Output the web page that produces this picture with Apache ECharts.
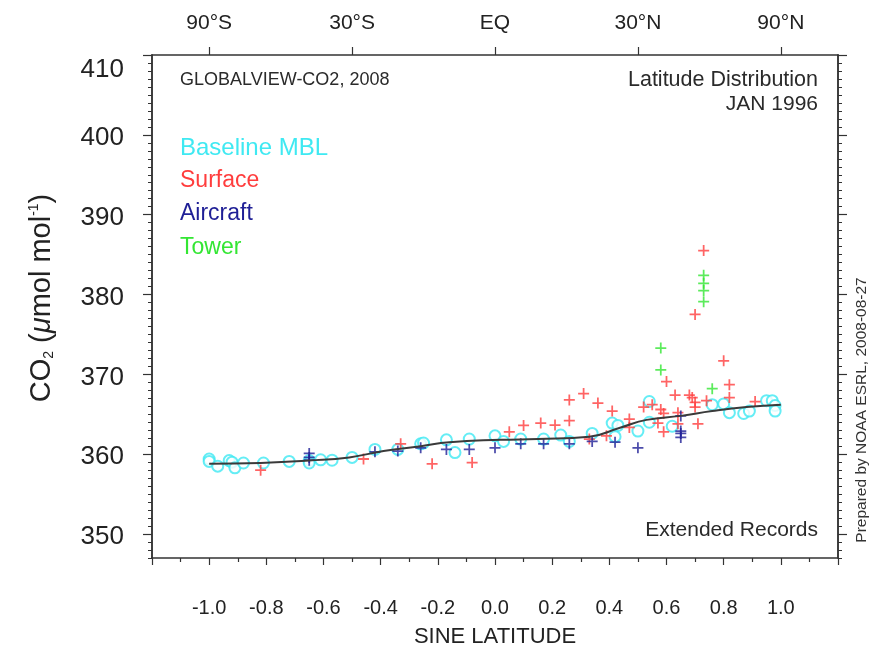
<!DOCTYPE html>
<html><head><meta charset="utf-8">
<script src="https://cdn.jsdelivr.net/npm/echarts@6/dist/echarts.min.js"></script>
<style>html,body{margin:0;padding:0;background:#fff}#c{width:871px;height:650px}</style>
</head><body><div id="c"></div>
<script>
// ---- data (x = sine latitude, y = CO2 umol/mol) ----
const baselineMBL = [
  [-1.00,359.4],[-1.00,359.1],[-0.97,358.5],[-0.93,359.2],[-0.92,359.0],[-0.91,358.3],[-0.88,358.9],
  [-0.81,358.9],[-0.72,359.1],[-0.65,359.2],[-0.65,358.9],[-0.61,359.3],[-0.57,359.25],[-0.50,359.6],
  [-0.42,360.6],[-0.34,360.6],[-0.26,361.3],[-0.25,361.4],[-0.17,361.8],[-0.14,360.2],[-0.09,361.9],
  [0.00,362.3],[0.03,361.6],[0.09,361.9],[0.17,361.9],[0.23,362.4],[0.26,361.6],[0.34,362.6],
  [0.41,363.9],[0.43,363.6],[0.42,362.2],[0.50,362.9],[0.54,364.0],[0.54,366.6],[0.62,363.5],
  [0.76,366.2],[0.80,366.3],[0.82,365.2],[0.87,365.1],[0.89,365.4],[0.95,366.7],[0.97,366.7],
  [0.98,366.1],[0.98,365.4]
];
const surface = [
  [-0.82,358.0],[-0.46,359.4],[-0.33,361.3],[-0.22,358.8],[-0.08,358.95],
  [0.05,362.8],[0.10,363.6],[0.16,363.9],[0.21,363.65],[0.26,364.2],[0.26,366.8],[0.31,367.6],
  [0.33,361.9],[0.36,366.4],[0.39,362.3],[0.41,365.4],[0.47,364.4],[0.47,363.35],[0.52,365.9],
  [0.55,366.2],[0.57,363.9],[0.58,365.6],[0.59,365.1],[0.59,362.8],[0.60,369.1],[0.63,367.4],
  [0.64,365.2],[0.64,363.8],[0.68,367.4],[0.69,367.1],[0.70,366.5],[0.70,365.9],[0.71,363.8],
  [0.74,366.7],[0.70,377.5],[0.73,385.5],[0.80,371.7],[0.82,368.7],[0.82,367.1],[0.91,366.6]
];
const aircraft = [
  [-0.65,360.1],[-0.65,359.6],[-0.65,359.25],[-0.42,360.3],[-0.34,360.4],[-0.26,360.8],
  [-0.17,360.6],[-0.09,360.6],[0.00,360.8],[0.09,361.3],[0.17,361.3],[0.26,361.3],[0.34,361.6],
  [0.42,361.5],[0.50,360.8],[0.65,364.8],[0.65,362.9],[0.65,362.6],[0.65,362.1]
];
const tower = [
  [0.58,373.3],[0.58,370.55],[0.73,382.4],[0.73,381.4],[0.73,380.5],[0.73,379.1],[0.76,368.2]
];
const curve = [
  [-1.00,358.8],[-0.82,358.9],[-0.65,359.2],[-0.51,359.6],[-0.39,360.4],[-0.26,361.0],[-0.16,361.5],
  [0.02,361.8],[0.15,361.9],[0.33,362.2],[0.44,363.35],[0.53,364.3],[0.65,364.8],[0.76,365.4],
  [0.88,365.9],[1.00,366.2]
];
const yMajorTicks = [350,360,370,380,390,400,410];
const topTickValues = [-1,-0.5,0,0.5,1];
const topTickLabels = ['90°S','30°S','EQ','30°N','90°N'];

const C_CYAN = '#3fe9f2', C_RED = '#ff3d3d', C_NAVY = '#1f1f96', C_GREEN = '#33e633';
const PLUS = 'path://M4.2,0H5.8V4.2H10V5.8H5.8V10H4.2V5.8H0V4.2H4.2Z';
const FONT = 'Liberation Sans, Arial, Helvetica, sans-serif';
const AX = '#333';

const chart = echarts.init(document.getElementById('c'), null, {renderer:'canvas'});
const yBase = {type:'value', min:347, max:410, splitLine:{show:false},
  axisLine:{show:true, onZero:false, lineStyle:{color:AX, width:1.5}}};
const option = {
  backgroundColor:'#fff',
  animation:false,
  grid:{left:152, right:33, top:55, bottom:92, containLabel:false, outerBoundsMode:'none'},
  xAxis:[
    {type:'value', position:'bottom', min:-1.2, max:1.2, interval:0.2,
     axisLine:{show:true, onZero:false, lineStyle:{color:AX, width:1.5}},
     axisTick:{show:true, inside:false, length:7, lineStyle:{color:AX, width:1.2}},
     minorTick:{show:true, splitNumber:2, length:4, lineStyle:{color:AX, width:1.2}},
     splitLine:{show:false},
     axisLabel:{margin:40, fontSize:20, color:'#222', fontFamily:FONT,
       formatter:v => Math.abs(v) > 1.05 ? '' : v.toFixed(1)},
     name:'SINE LATITUDE', nameLocation:'middle', nameGap:68,
     nameTextStyle:{fontSize:22, color:'#222', fontFamily:FONT}},
    {type:'value', position:'top', min:-1.2, max:1.2,
     axisLine:{show:true, onZero:false, lineStyle:{color:AX, width:1.5}},
     axisTick:{show:true, inside:false, length:8, customValues:topTickValues, lineStyle:{color:AX, width:1.2}},
     splitLine:{show:false},
     axisLabel:{show:true, margin:21, fontSize:21, color:'#222', fontFamily:FONT,
       customValues:topTickValues,
       formatter:v => { const i = topTickValues.findIndex(t => Math.abs(t - v) < 1e-6); return i >= 0 ? topTickLabels[i] : ''; }}}
  ],
  yAxis:[
    Object.assign({}, yBase, {position:'left', interval:1,
      axisTick:{show:true, inside:false, length:4, lineStyle:{color:AX, width:1}},
      axisLabel:{show:true, margin:28, fontSize:26, color:'#222', fontFamily:FONT,
        formatter:v => (v === 410 ? '{t|410}' : (v % 10 === 0 ? '{n|' + v + '}' : '')),
        rich:{t:{fontSize:26, fontFamily:FONT, color:'#222', padding:[30,0,0,0]},
              n:{fontSize:26, fontFamily:FONT, color:'#222', padding:[6,0,0,0]}}}}),
    Object.assign({}, yBase, {position:'left',
      axisTick:{show:true, inside:false, length:9, customValues:yMajorTicks, lineStyle:{color:AX, width:1.2}},
      axisLabel:{show:false}}),
    Object.assign({}, yBase, {position:'right', interval:1,
      axisTick:{show:true, inside:false, length:4, lineStyle:{color:AX, width:1}},
      axisLabel:{show:false}}),
    Object.assign({}, yBase, {position:'right',
      axisTick:{show:true, inside:false, length:9, customValues:yMajorTicks, lineStyle:{color:AX, width:1.2}},
      axisLabel:{show:false}})
  ],
  series:[
    {type:'scatter', name:'Baseline MBL', data:baselineMBL, symbol:'emptyCircle', symbolSize:11,
     itemStyle:{color:C_CYAN, borderColor:C_CYAN, borderWidth:1.7}, z:2},
    {type:'scatter', name:'Surface', data:surface, symbol:PLUS, symbolSize:11,
     itemStyle:{color:C_RED}, z:3},
    {type:'scatter', name:'Aircraft', data:aircraft, symbol:PLUS, symbolSize:11,
     itemStyle:{color:C_NAVY}, z:3},
    {type:'scatter', name:'Tower', data:tower, symbol:PLUS, symbolSize:11,
     itemStyle:{color:C_GREEN}, z:3},
    {type:'line', name:'curve', data:curve, smooth:0.5, showSymbol:false, symbol:'none',
     lineStyle:{color:'#3a3a3a', width:2}, z:4}
  ],
  graphic:[
    {type:'text', x:180, y:80, style:{text:'GLOBALVIEW-CO2, 2008', font:'18px '+FONT, fill:'#2a2a2a', verticalAlign:'middle'}},
    {type:'text', x:818, y:80, style:{text:'Latitude Distribution', font:'21.5px '+FONT, fill:'#2a2a2a', align:'right', verticalAlign:'middle'}},
    {type:'text', x:818, y:104, style:{text:'JAN 1996', font:'21px '+FONT, fill:'#2a2a2a', align:'right', verticalAlign:'middle'}},
    {type:'text', x:180, y:148, style:{text:'Baseline MBL', font:'24px '+FONT, fill:C_CYAN, verticalAlign:'middle'}},
    {type:'text', x:180, y:181, style:{text:'Surface', font:'23px '+FONT, fill:C_RED, verticalAlign:'middle'}},
    {type:'text', x:180, y:214, style:{text:'Aircraft', font:'23px '+FONT, fill:C_NAVY, verticalAlign:'middle'}},
    {type:'text', x:180, y:248, style:{text:'Tower', font:'23px '+FONT, fill:C_GREEN, verticalAlign:'middle'}},
    {type:'text', x:818, y:530, style:{text:'Extended Records', font:'21px '+FONT, fill:'#2a2a2a', align:'right', verticalAlign:'middle'}},
    {type:'text', x:42, y:298, rotation:Math.PI/2,
     style:{text:'{n|CO}{s|2}{n| (}{i|μ}{n|mol mol}{p|-1}{n|)}', align:'center', verticalAlign:'middle',
       rich:{n:{font:'29px '+FONT, fill:'#222'}, i:{font:'italic 29px '+FONT, fill:'#222'},
             s:{font:'14px '+FONT, fill:'#222', verticalAlign:'bottom', padding:[11,0,0,0]},
             p:{font:'14px '+FONT, fill:'#222', verticalAlign:'top', padding:[0,0,13,0]}}}},
    {type:'text', x:862, y:410, rotation:Math.PI/2,
     style:{text:'Prepared by NOAA ESRL, 2008-08-27', font:'15.5px '+FONT, fill:'#333', align:'center', verticalAlign:'middle'}}
  ]
};
chart.setOption(option);
</script></body></html>
